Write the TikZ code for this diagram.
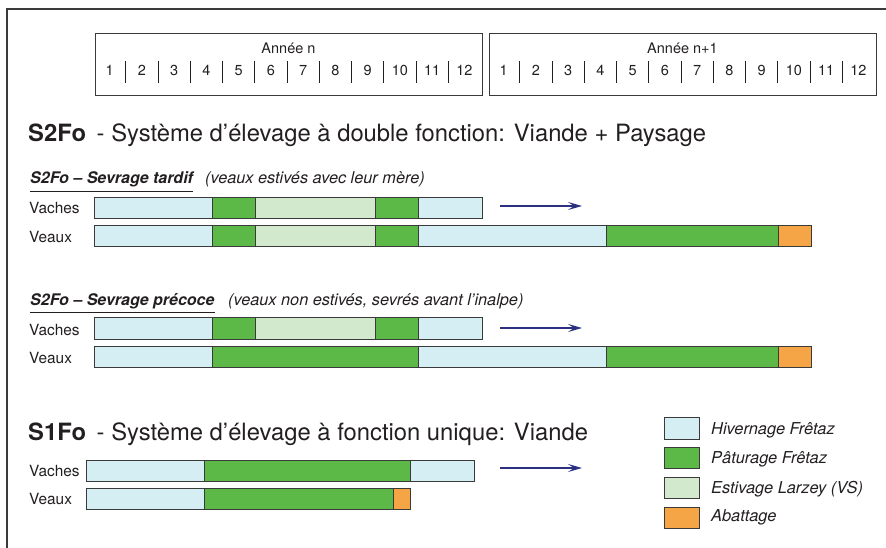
\documentclass[tikz,border=0pt]{standalone}
\usepackage{fontspec}
\setmainfont{TeX Gyre Heros}
\usetikzlibrary{arrows.meta}
\definecolor{hiv}{HTML}{D5EEF3}
\definecolor{pat}{HTML}{5CB947}
\definecolor{est}{HTML}{D3E9CD}
\definecolor{aba}{HTML}{F5A546}
\definecolor{nav}{HTML}{2B3180}
\definecolor{edgec}{HTML}{3A3A3A}
\definecolor{txt}{HTML}{231F20}
\newcommand\tlseg[5]{\draw[segbox,fill=#5] (#1,#3) rectangle (#2,#4);}
\begin{document}
\begin{tikzpicture}[x=1pt,y=-1pt,
  segbox/.style={draw=edgec,line width=0.9pt},
  lab/.style={anchor=base west,inner sep=0,text=txt,font=\fontsize{15.4}{17}\selectfont},
  small/.style={anchor=base,inner sep=0,text=txt,font=\fontsize{14.5}{16}\selectfont},
  yearbox/.style={draw=edgec,line width=0.9pt,anchor=north west,minimum width=387pt,minimum height=62pt,inner sep=0},
  big/.style={anchor=base west,inner sep=0,text=txt,font=\fontsize{23.8}{27}\selectfont},
  sub/.style={anchor=base west,inner sep=0,text=txt,font=\fontsize{16}{18}\selectfont\bfseries\itshape},
  subx/.style={anchor=base west,inner sep=0,text=txt,font=\fontsize{16.3}{18}\selectfont\itshape},
  leg/.style={anchor=base west,inner sep=0,text=txt,font=\fontsize{16.4}{19}\selectfont\itshape},
  legbox/.style={draw=edgec,line width=0.9pt,anchor=north west,minimum width=35pt,minimum height=21.5pt,inner sep=0},
  flow/.style={draw=nav,line width=1.4pt,-{Stealth[length=14pt,width=8pt,inset=6pt]}}
]
\useasboundingbox (0,0) rectangle (886,548);
% outer frame
\draw[edgec,line width=2pt] (7,548) -- (7,9) -- (886,9);

% year headers
\foreach \n/\x/\t in {yn/95/{Année n}, ym/489/{Année n+1}}{
  \node[yearbox] (\n) at (\x,33) {};
  \node[small] (\n t) at (\x+193.5,53.3) {\t};
  \foreach \i in {1,...,12}{
    \node[small] (\n m\i) at (\x+\i*32.25-16.1-1.5,75.5) {\i};
  }
  \foreach \i in {1,...,11}{
    \draw[txt,line width=0.8pt] (\x+\i*32.25-1.5,61) -- (\x+\i*32.25-1.5,83);
  }
}

% main title S2Fo
\node[big] (t2) at (28,141.5) {\textbf{S2Fo}\hspace{0.45em}- Système d’élevage à double fonction: Viande + Paysage};

% Sevrage tardif
\node[sub] (st1) at (30,184) {S2Fo – Sevrage tardif};
\draw[txt,line width=1.1pt] ([yshift=-7.5pt]st1.base west) -- ([yshift=-7.5pt]st1.base east);
\node[subx] (sx1) at (205,184) {(veaux estivés avec leur mère)};
\node[lab] (va1) at (29,214) {Vaches};
\node[lab] (ve1) at (29,242.3) {Veaux};
\tlseg{94}{212}{197}{218}{hiv}
\tlseg{212}{255}{197}{218}{pat}
\tlseg{255}{375}{197}{218}{est}
\tlseg{375}{418}{197}{218}{pat}
\tlseg{418}{482}{197}{218}{hiv}
\tlseg{94}{212}{225}{246}{hiv}
\tlseg{212}{255}{225}{246}{pat}
\tlseg{255}{375}{225}{246}{est}
\tlseg{375}{418}{225}{246}{pat}
\tlseg{418}{606}{225}{246}{hiv}
\tlseg{606}{778}{225}{246}{pat}
\tlseg{778}{811}{225}{246}{aba}
\coordinate (a1s) at (500,206);
\coordinate (a1e) at (582,206);
\draw[flow] (a1s) -- (a1e);

% Sevrage precoce
\node[sub] (st2) at (30,305) {S2Fo – Sevrage précoce};
\draw[txt,line width=1.1pt] ([yshift=-7.5pt]st2.base west) -- ([yshift=-7.5pt]st2.base east);
\node[subx] (sx2) at (228,305) {(veaux non estivés, sevrés avant l’inalpe)};
\node[lab] (va2) at (29,335) {Vaches};
\node[lab] (ve2) at (29,363) {Veaux};
\tlseg{94}{212}{317}{339}{hiv}
\tlseg{212}{255}{317}{339}{pat}
\tlseg{255}{375}{317}{339}{est}
\tlseg{375}{418}{317}{339}{pat}
\tlseg{418}{482}{317}{339}{hiv}
\tlseg{94}{212}{346}{367}{hiv}
\tlseg{212}{418}{346}{367}{pat}
\tlseg{418}{606}{346}{367}{hiv}
\tlseg{606}{778}{346}{367}{pat}
\tlseg{778}{811}{346}{367}{aba}
\coordinate (a2s) at (500,328);
\coordinate (a2e) at (582,328);
\draw[flow] (a2s) -- (a2e);

% S1Fo
\node[big] (t1) at (28,440) {\textbf{S1Fo}\hspace{0.45em}- Système d’élevage à fonction unique: Viande};
\node[lab] (va3) at (29,476.7) {Vaches};
\node[lab] (ve3) at (29,504.3) {Veaux};
\tlseg{86}{204}{460}{481}{hiv}
\tlseg{204}{410}{460}{481}{pat}
\tlseg{410}{474}{460}{481}{hiv}
\tlseg{86}{204}{488}{509}{hiv}
\tlseg{204}{393}{488}{509}{pat}
\tlseg{393}{410}{488}{509}{aba}
\coordinate (a3s) at (500,468);
\coordinate (a3e) at (582,468);
\draw[flow] (a3s) -- (a3e);

% legend
\node[legbox,fill=hiv] (l1) at (664,417) {};
\node[legbox,fill=pat] (l2) at (664,446.5) {};
\node[legbox,fill=est] (l3) at (664,476.5) {};
\node[legbox,fill=aba] (l4) at (664,506.5) {};
\node[leg] (l1t) at (711,434.5) {Hivernage Frêtaz};
\node[leg] (l2t) at (711,463.5) {Pâturage Frêtaz};
\node[leg] (l3t) at (711,493.3) {Estivage Larzey (VS)};
\node[leg] (l4t) at (711,521.5) {Abattage};
\end{tikzpicture}
\end{document}
